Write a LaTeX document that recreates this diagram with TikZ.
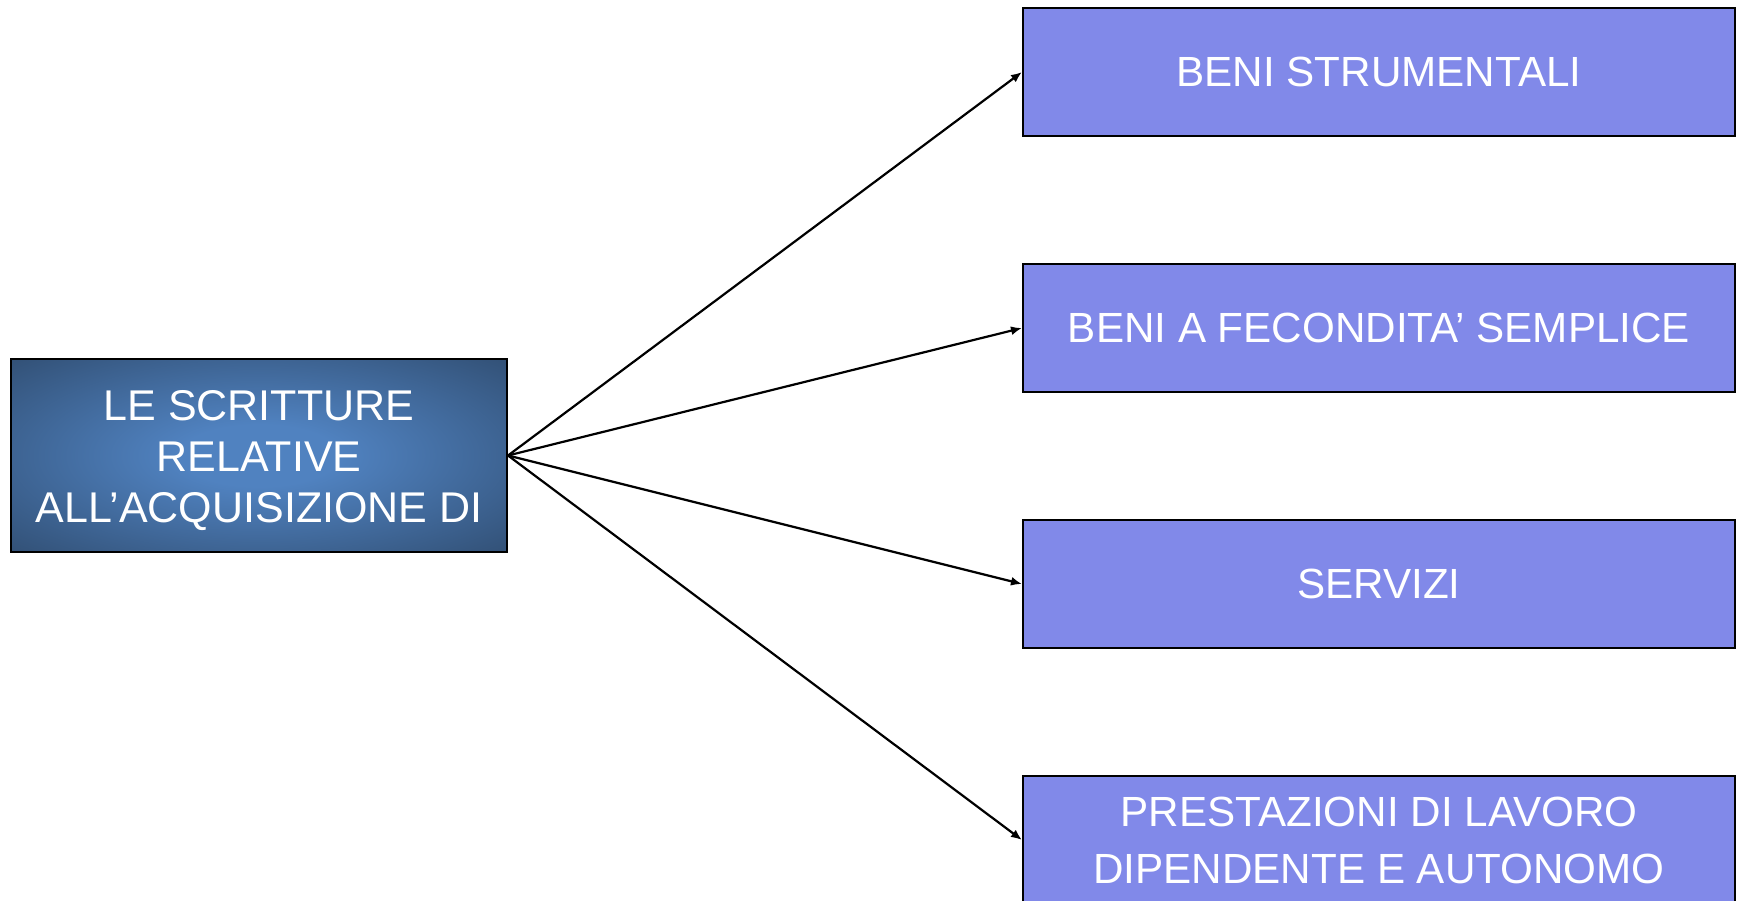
\documentclass[tikz,border=0pt]{standalone}
\usepackage{fontspec}
\setmainfont{Liberation Sans}
\usetikzlibrary{arrows.meta}
\definecolor{boxblue}{RGB}{129,137,233}
\definecolor{darkin}{RGB}{80,130,192}
\definecolor{darkout}{RGB}{43,69,101}
\pgfdeclareradialshading{boxglow}{\pgfpoint{0bp}{0bp}}{color(0bp)=(darkin); color(8bp)=(darkin); color(42bp)=(darkout); color(50bp)=(darkout)}
\tikzset{
  mainbox/.style={draw=black, line width=2pt, shading=boxglow,
    minimum width=496pt, minimum height=193pt, inner sep=0pt},
  maintext/.style={text=white, align=center, inner sep=0pt, yshift=-5pt,
    font=\fontsize{43}{51}\selectfont},
  catbox/.style={draw=black, line width=2pt, fill=boxblue, minimum width=712pt, minimum height=128pt,
    inner sep=0pt, align=center, text=white, font=\fontsize{42.2}{57}\selectfont},
  conn/.style={draw=black, line width=2.2pt, -{Latex[length=11pt,width=9pt]}}
}
\begin{document}
\begin{tikzpicture}[x=1pt,y=-1pt]
\useasboundingbox (0,0) rectangle (1740,900);
\node[mainbox, label={[maintext]center:LE SCRITTURE\\RELATIVE\\ALL’ACQUISIZIONE DI}] (src) at (259,455.5) {};
\node[catbox] (b1) at (1379,72) {BENI STRUMENTALI};
\node[catbox] (b2) at (1379,328) {BENI A FECONDITA’ SEMPLICE};
\node[catbox] (b3) at (1379,584) {SERVIZI};
\node[catbox] (b4) at (1379,840) {PRESTAZIONI DI LAVORO\\DIPENDENTE E AUTONOMO};
\draw[conn] (src.east) -- (b1.west);
\draw[conn] (src.east) -- (b2.west);
\draw[conn] (src.east) -- (b3.west);
\draw[conn] (src.east) -- (b4.west);
\end{tikzpicture}
\end{document}
